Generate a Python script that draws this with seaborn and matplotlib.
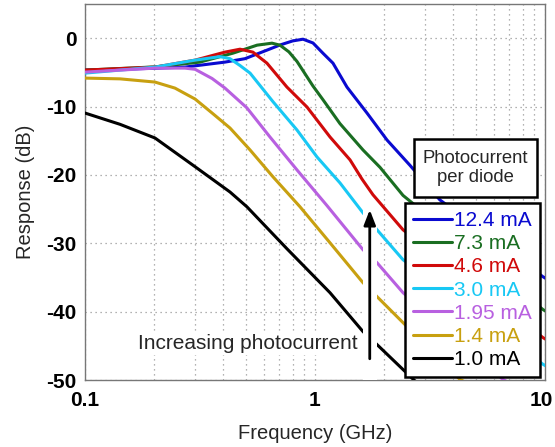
import numpy as np
import pandas as pd
import matplotlib
matplotlib.use("Agg")
import matplotlib.pyplot as plt
from matplotlib.patches import Rectangle
from matplotlib.ticker import LogLocator, NullFormatter
from matplotlib.transforms import ScaledTranslation
import seaborn as sns

# ---- data ----
labels = ["12.4 mA", "7.3 mA", "4.6 mA", "3.0 mA", "1.95 mA", "1.4 mA", "1.0 mA"]
colors = ["#0a0ad0", "#1a6e22", "#d00a0a", "#18c8f4", "#b860e0", "#c8a010", "#000000"]

f_blue = [0.1, 0.2, 0.272, 0.406, 0.496, 0.618, 0.704, 0.80, 0.887, 0.98, 1.083, 1.197, 1.377, 1.683, 2.057, 2.588, 3.49, 9.8, 10.5]
db_blue = [-4.67, -4.4, -4.23, -3.5, -3.0, -1.75, -1.0, -0.4, -0.15, -0.7, -2.2, -3.65, -7.15, -10.95, -14.9, -18.6, -23.65, -34.9, -35.5]

f_green = [0.1, 0.2015, 0.316, 0.44, 0.56, 0.65, 0.704, 0.77, 0.835, 0.98, 1.083, 1.284, 1.617, 1.918, 2.414, 9.8, 10.5]
db_green = [-4.67, -4.2, -3.5, -2.19, -1.02, -0.73, -1.02, -2.0, -3.4, -7.0, -9.0, -12.5, -16.35, -18.9, -23.0, -39.7, -40.3]

f_red = [0.1, 0.2015, 0.301, 0.406, 0.472, 0.537, 0.618, 0.755, 0.923, 1.162, 1.42, 1.6, 1.786, 2.414, 9.8, 10.5]
db_red = [-4.67, -4.23, -3.21, -2.04, -1.61, -2.04, -3.65, -7.15, -10.07, -14.45, -17.8, -20.6, -22.9, -28.03, -43.8, -44.4]

f_cyan = [0.1, 0.2015, 0.301, 0.386, 0.427, 0.472, 0.522, 0.657, 0.835, 1.02, 1.284, 1.617, 1.861, 2.414, 9.8, 10.5]
db_cyan = [-5.11, -4.23, -3.21, -2.7, -3.0, -4.0, -5.11, -9.3, -13.43, -17.37, -21.17, -25.55, -28.03, -32.41, -47.7, -48.3]

f_purple = [0.1, 0.2015, 0.272, 0.301, 0.357, 0.406, 0.506, 0.637, 0.835, 1.128, 1.617, 1.861, 2.414, 6.57, 7.5]
db_purple = [-4.96, -4.38, -4.38, -4.55, -5.9, -7.3, -10.2, -14.45, -19.27, -24.5, -30.95, -32.85, -37.23, -49.93, -51.0]

f_gold = [0.1, 0.142, 0.2015, 0.246, 0.301, 0.357, 0.427, 0.522, 0.657, 0.861, 1.162, 1.617, 1.861, 2.414, 4.27, 5.0]
db_gold = [-5.84, -5.95, -6.42, -7.3, -8.9, -10.95, -13.14, -16.35, -20.29, -24.67, -29.93, -35.77, -37.81, -41.61, -49.93, -51.0]

f_black = [0.1, 0.142, 0.2015, 0.301, 0.427, 0.506, 0.755, 1.162, 1.617, 1.861, 2.414, 3.0]
db_black = [-10.95, -12.6, -14.6, -18.8, -22.5, -24.67, -30.8, -37.23, -42.92, -44.82, -48.47, -51.5]

freqs = [f_blue, f_green, f_red, f_cyan, f_purple, f_gold, f_black]
resps = [db_blue, db_green, db_red, db_cyan, db_purple, db_gold, db_black]

x_ticks = [0.1, 1, 10]
x_ticklabels = ["0.1", "1", "10"]
y_ticks = [0, -10, -20, -30, -40, -50]

# ---- plotting ----
sns.set_style("white")
plt.rcParams["font.family"] = ["Liberation Sans", "DejaVu Sans"]

fig = plt.figure(figsize=(5.55, 4.47), dpi=100)
ax = fig.add_axes([85 / 555, 1 - 380 / 447, 460 / 555, 376 / 447])

handles = []
for f, r, lab, c in zip(freqs, resps, labels, colors):
    df = pd.DataFrame({"f": f, "r": r})
    sns.lineplot(data=df, x="f", y="r", ax=ax, color=c, lw=2.2, legend=False, zorder=3)
    handles.append(ax.lines[-1])

ax.set_xscale("log")
ax.set_xlim(0.1, 10)
ax.set_ylim(-50, 5)
ax.set_xticks(x_ticks)
ax.set_xticklabels(x_ticklabels)
ax.xaxis.set_minor_locator(LogLocator(base=10, subs=np.arange(2, 10)))
ax.xaxis.set_minor_formatter(NullFormatter())
ax.set_yticks(y_ticks)
ax.set_yticklabels([str(v) for v in y_ticks])
for lab in ax.get_xticklabels() + ax.get_yticklabels():
    lab.set_fontweight("bold")
    lab.set_fontsize(15)
ax.tick_params(axis="both", which="both", direction="in", colors="#777777", labelcolor="black", length=3)
ax.tick_params(axis="y", which="major", pad=6)
ax.tick_params(axis="x", which="major", pad=8)
# nudge the last x tick label ("10") so it stays inside the figure
last = ax.get_xticklabels()[-1]
last.set_transform(last.get_transform() + ScaledTranslation(-4 / 100, 0, fig.dpi_scale_trans))

ax.grid(True, which="both", axis="x", ls=(0, (1, 3)), color="#999999", lw=0.9)
ax.grid(True, which="major", axis="y", ls=(0, (1, 3)), color="#999999", lw=0.9)
for s in ax.spines.values():
    s.set_color("#777777")
    s.set_linewidth(1.0)

ax.set_xlabel("Frequency (GHz)", fontsize=14.5, labelpad=10)
ax.set_ylabel("Response (dB)", fontsize=14.5, labelpad=8)

# white gap behind the arrow
ax.add_patch(Rectangle((1.617, -50), 1.861 - 1.617, 25.7, facecolor="white", edgecolor="none", zorder=4))
ax.annotate("", xy=(1.73, -24.7), xytext=(1.73, -47.3),
            arrowprops=dict(arrowstyle="-|>,head_width=0.35,head_length=0.9", color="black", lw=2),
            zorder=5)
ax.text(0.115, 0.096, "Increasing photocurrent", transform=ax.transAxes, fontsize=15,
        ha="left", va="center", zorder=5,
        bbox=dict(facecolor="white", edgecolor="none", pad=1))

# title box
ax.add_patch(Rectangle((0.715, 0.487), 0.268, 0.154, transform=ax.transAxes,
                       facecolor="white", edgecolor="black", lw=1.8, zorder=6))
ax.text(0.849, 0.564, "Photocurrent\nper diode", transform=ax.transAxes, fontsize=13.3,
        ha="center", va="center", linespacing=1.15, zorder=7)

leg = ax.legend(handles, labels, loc="lower right", bbox_to_anchor=(0.989, 0.008),
                borderaxespad=0, fontsize=15, handlelength=1.9, handletextpad=0.1,
                labelspacing=0.2, borderpad=0.38, fancybox=False, framealpha=1,
                edgecolor="black")
leg.get_frame().set_linewidth(1.8)
leg.set_zorder(8)
for t, c in zip(leg.get_texts(), colors):
    t.set_color(c)

fig.savefig("out.png", dpi=100, facecolor="white")
